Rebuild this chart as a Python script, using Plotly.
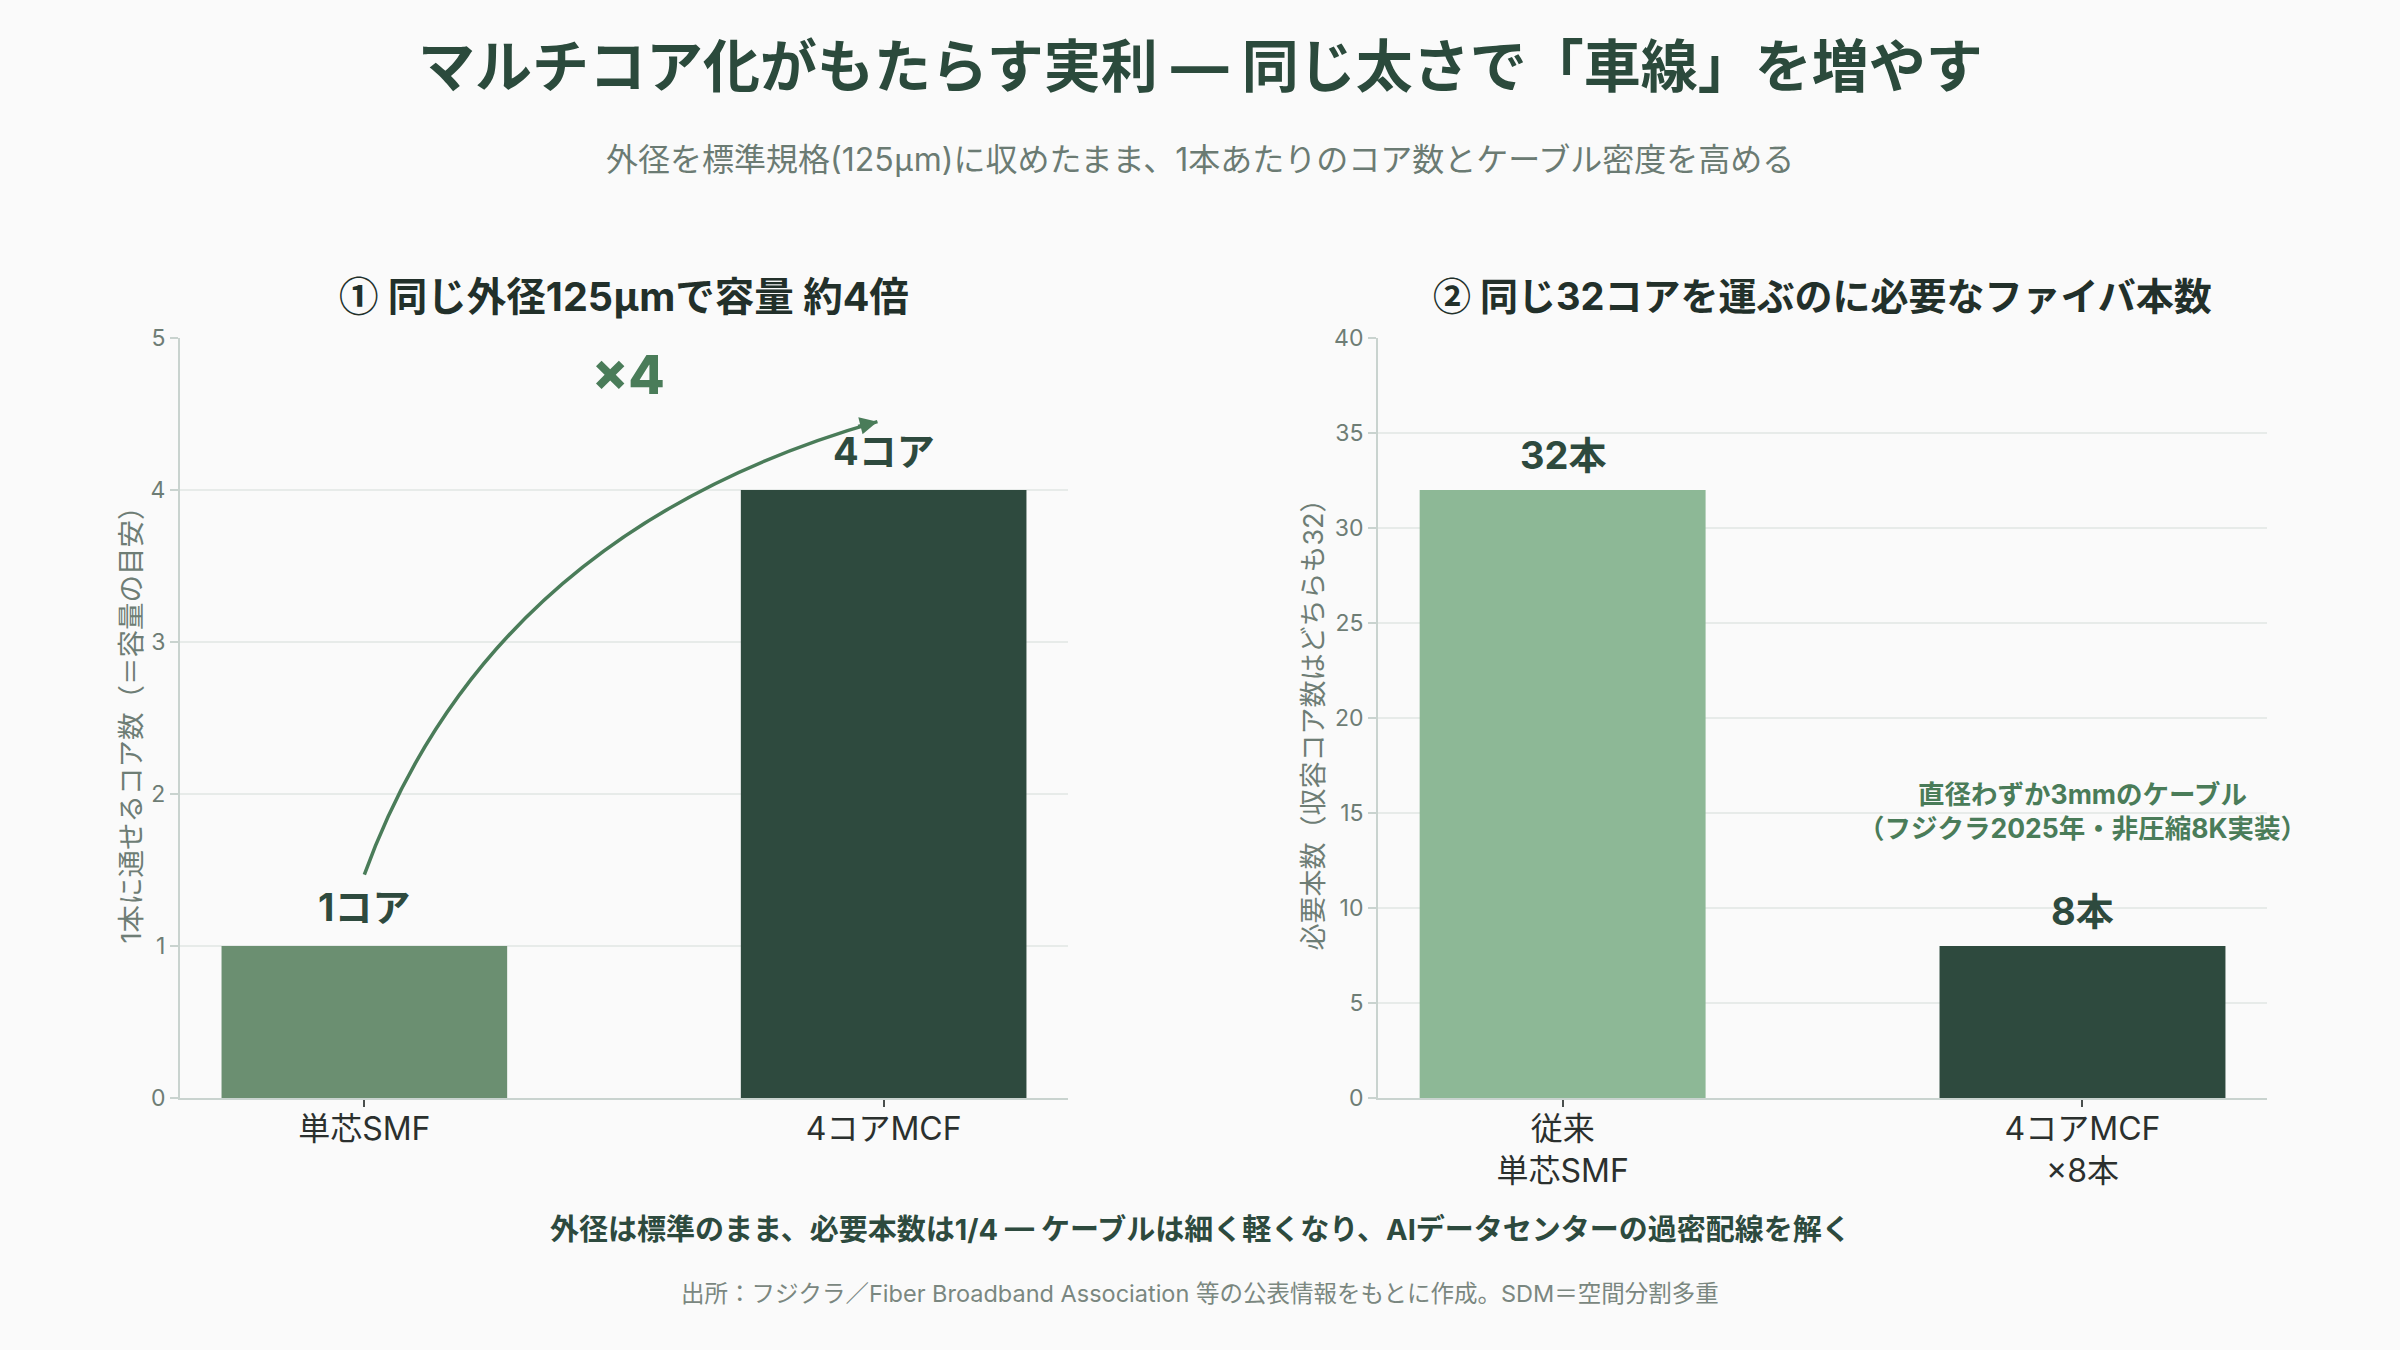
import plotly.graph_objects as go

# ---------------- data ----------------
left_categories = ["単芯SMF", "4コアMCF"]
left_cores = [1, 4]
left_labels = ["1コア", "4コア"]
left_colors = ["#6B8F71", "#2E4A3E"]
left_ticks = [0, 1, 2, 3, 4, 5]

right_categories = ["従来<br>単芯SMF", "4コアMCF<br>×8本"]
right_fibers = [32, 8]
right_labels = ["32本", "8本"]
right_colors = ["#8DB896", "#2E4A3E"]
right_ticks = [0, 5, 10, 15, 20, 25, 30, 35, 40]

CJK = "<span style='font-family:\"Noto Sans CJK JP\"'>{}</span>"
title_text = "マルチコア化がもたらす実利 — 同じ太さで「車線」を増やす"
subtitle_text = "外径を標準規格(125" + CJK.format("μ") + "m)に収めたまま、1本あたりのコア数とケーブル密度を高める"
left_title = CJK.format("①") + " 同じ外径125" + CJK.format("μ") + "mで容量 約4倍"
right_title = CJK.format("②") + " 同じ32コアを運ぶのに必要なファイバ本数"
left_ytitle = "1本に通せるコア数（＝容量の目安）"
right_ytitle = "必要本数（収容コア数はどちらも32）"
multiplier_text = "×4"
cable_note = "直径わずか3mmのケーブル<br>（フジクラ2025年・非圧縮8K実装）"
bottom_text = "外径は標準のまま、必要本数は1/4 — ケーブルは細く軽くなり、AIデータセンターの過密配線を解く"
source_text = "出所：フジクラ／Fiber Broadband Association 等の公表情報をもとに作成。SDM＝空間分割多重"

# ---------------- style ----------------
FONT = "Inter, 'Noto Sans CJK JP', sans-serif"
BG = "#FAFAFA"
DARK = "#2B4A3C"
ACCENT = "#4A7C59"
GRAY = "#6E7D75"
AXIS = "#C9D3CF"
GRID = "#E7EBE9"

fig = go.Figure()

fig.add_trace(go.Bar(
    x=left_categories, y=left_cores, marker=dict(color=left_colors, line=dict(width=0)),
    width=0.55, xaxis="x", yaxis="y", showlegend=False, hoverinfo="x+y",
))
fig.add_trace(go.Bar(
    x=right_categories, y=right_fibers, marker=dict(color=right_colors, line=dict(width=0)),
    width=0.55, xaxis="x2", yaxis="y2", showlegend=False, hoverinfo="x+y",
))

ydom = [0.1867, 0.7496]
common_x = dict(type="category", range=[-0.355, 1.355], showline=True, linecolor=AXIS, linewidth=2,
                ticks="outside", ticklen=7, tickwidth=2, tickcolor="#4A4F4D",
                tickfont=dict(family=FONT, size=32, color="#2B302E"), showgrid=False,
                ticklabelstandoff=-5,
                zeroline=False, automargin=False, fixedrange=True)
common_y = dict(showline=True, linecolor=AXIS, linewidth=2, ticks="outside", ticklen=8, tickwidth=2,
                tickcolor=AXIS, tickfont=dict(family=FONT, size=23, color=GRAY),
                showgrid=True, gridcolor=GRID, gridwidth=2, zeroline=False,
                automargin=False, fixedrange=True)

fig.update_layout(
    width=2400, height=1350,
    margin=dict(l=0, r=0, t=0, b=0),
    paper_bgcolor=BG, plot_bgcolor=BG,
    font=dict(family=FONT),
    bargap=0.45,
    xaxis=dict(domain=[0.075, 0.445], anchor="y", **common_x),
    yaxis=dict(domain=ydom, anchor="x", range=[0, 5], tickvals=left_ticks,
               title=dict(text=left_ytitle, font=dict(family=FONT, size=27.5, color=GRAY), standoff=1),
               **common_y),
    xaxis2=dict(domain=[0.5742, 0.9446], anchor="y2", **common_x),
    yaxis2=dict(domain=ydom, anchor="x2", range=[0, 40], tickvals=right_ticks,
                title=dict(text=right_ytitle, font=dict(family=FONT, size=27, color=GRAY), standoff=3),
                **common_y),
)

ann = []
H = 1350.0
def py(p):
    return 1 - p / H

ann.append(dict(text=title_text, x=0.5, y=py(67), xref="paper", yref="paper", showarrow=False,
                xanchor="center", yanchor="middle",
                font=dict(family=FONT, size=57, color=DARK, weight=700)))
ann.append(dict(text=subtitle_text, x=0.5, y=py(157), xref="paper", yref="paper", showarrow=False,
                xanchor="center", yanchor="middle", font=dict(family=FONT, size=32, color="#6B7B73")))
ann.append(dict(text=left_title, x=0.26, y=py(294), xref="paper", yref="paper", showarrow=False,
                xanchor="center", yanchor="middle", font=dict(family=FONT, size=39.5, color="#22302A", weight=700)))
ann.append(dict(text=right_title, x=0.7594, y=py(294), xref="paper", yref="paper", showarrow=False,
                xanchor="center", yanchor="middle", font=dict(family=FONT, size=38, color="#22302A", weight=700)))
ann.append(dict(text=bottom_text, x=0.5, y=py(1229), xref="paper", yref="paper", showarrow=False,
                xanchor="center", yanchor="middle", font=dict(family=FONT, size=29, color="#2D4A3E", weight=700)))
ann.append(dict(text=source_text, x=0.5, y=py(1293), xref="paper", yref="paper", showarrow=False,
                xanchor="center", yanchor="middle", font=dict(family=FONT, size=23.5, color="#7A8780")))

# bar value labels
for c, v, t in zip(left_categories, left_cores, left_labels):
    ann.append(dict(text=t, x=c, y=v, xref="x", yref="y", showarrow=False, yanchor="bottom", yshift=14,
                    font=dict(family=FONT, size=38, color="#2E4A3E", weight=700)))
for c, v, t in zip(right_categories, right_fibers, right_labels):
    ann.append(dict(text=t, x=c, y=v, xref="x2", yref="y2", showarrow=False, yanchor="bottom", yshift=10,
                    font=dict(family=FONT, size=38, color="#2E4A3E", weight=700)))

# ×4 label
ann.append(dict(text=multiplier_text, x=0.508, y=4.76, xref="x", yref="y", showarrow=False,
                xanchor="center", yanchor="middle", font=dict(family=FONT, size=53, color=ACCENT, weight=800)))
# cable note
ann.append(dict(text=cable_note, x=right_categories[1], y=15.1, xref="x2", yref="y2", showarrow=False,
                xanchor="center", yanchor="middle", align="center",
                font=dict(family=FONT, size=26.5, color=ACCENT, weight=700)))

# curved arrow from 1 core to 4 cores
x0, y0 = 0.0, 1.47
cx, cy = 0.24, 3.72
x1, y1 = 0.988, 4.45
fig.add_shape(type="path", xref="x", yref="y",
              path=f"M {x0},{y0} Q {cx},{cy} {x1},{y1}",
              line=dict(color=ACCENT, width=3.5), fillcolor="rgba(0,0,0,0)")
ann.append(dict(text="", x=x1, y=y1, ax=x1 - 0.04, ay=y1 - 0.034, xref="x", yref="y", axref="x", ayref="y",
                showarrow=True, arrowhead=2, arrowsize=1, arrowwidth=3.5, arrowcolor=ACCENT, standoff=0))

fig.update_layout(annotations=ann)

fig.write_html("out.html")
